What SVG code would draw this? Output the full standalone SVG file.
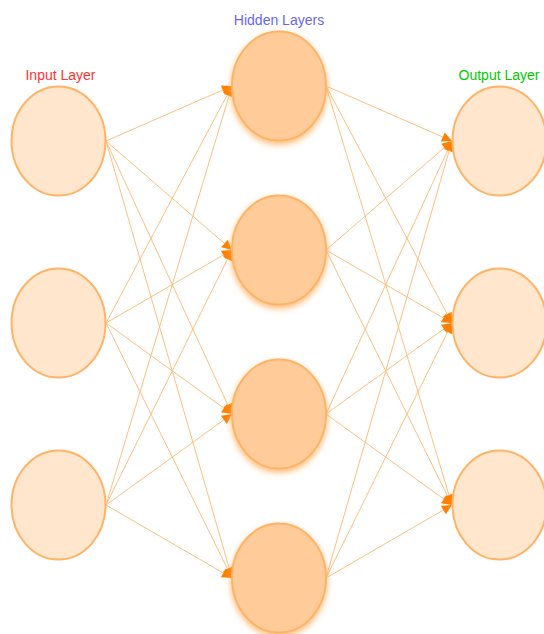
<svg xmlns="http://www.w3.org/2000/svg" width="544" height="634" viewBox="0 0 544 634">
<style>
.io{fill:#FFE6CC;stroke:#FFB366;stroke-width:2}
.hid{fill:#FFCC99;stroke:#FFB366;stroke-width:2;filter:url(#glow)}
.e{stroke:#FFBF80;stroke-width:1;fill:none;marker-end:url(#arr)}
.lbl{font-family:"Liberation Sans",Arial,sans-serif;font-size:14px;text-anchor:middle}
</style>
<defs>
<marker id="arr" markerUnits="userSpaceOnUse" markerWidth="14" markerHeight="14" viewBox="0 0 14 14" refX="12" refY="7" orient="auto">
<path d="M2,2 L12,7 L2,12 Z" fill="#FF8000"/>
</marker>
<filter id="glow" x="-30%" y="-30%" width="160%" height="170%">
<feDropShadow dx="0" dy="3" stdDeviation="3" flood-color="#FFA850" flood-opacity="0.8"/>
</filter>
</defs>
<g id="connectors">
<path class="e" d="M106,141 L232,86"/>
<path class="e" d="M106,141 L232,250"/>
<path class="e" d="M106,141 L232,414"/>
<path class="e" d="M106,141 L232,578"/>
<path class="e" d="M106,323 L232,86"/>
<path class="e" d="M106,323 L232,250"/>
<path class="e" d="M106,323 L232,414"/>
<path class="e" d="M106,323 L232,578"/>
<path class="e" d="M106,505 L232,86"/>
<path class="e" d="M106,505 L232,250"/>
<path class="e" d="M106,505 L232,414"/>
<path class="e" d="M106,505 L232,578"/>
<path class="e" d="M326,86 L452,141"/>
<path class="e" d="M326,86 L452,323"/>
<path class="e" d="M326,86 L452,505"/>
<path class="e" d="M326,250 L452,141"/>
<path class="e" d="M326,250 L452,323"/>
<path class="e" d="M326,250 L452,505"/>
<path class="e" d="M326,414 L452,141"/>
<path class="e" d="M326,414 L452,323"/>
<path class="e" d="M326,414 L452,505"/>
<path class="e" d="M326,578 L452,141"/>
<path class="e" d="M326,578 L452,323"/>
<path class="e" d="M326,578 L452,505"/>
</g>
<g id="input1"><ellipse class="io" cx="58.5" cy="141" rx="47" ry="54.5"/></g>
<g id="input2"><ellipse class="io" cx="58.5" cy="323" rx="47" ry="54.5"/></g>
<g id="input3"><ellipse class="io" cx="58.5" cy="505" rx="47" ry="54.5"/></g>
<g id="hidden1"><ellipse class="hid" cx="279" cy="86" rx="47" ry="54.5"/></g>
<g id="hidden2"><ellipse class="hid" cx="279" cy="250" rx="47" ry="54.5"/></g>
<g id="hidden3"><ellipse class="hid" cx="279" cy="414" rx="47" ry="54.5"/></g>
<g id="hidden4"><ellipse class="hid" cx="279" cy="578" rx="47" ry="54.5"/></g>
<g id="output1"><ellipse class="io" cx="499.5" cy="141" rx="47" ry="54.5"/></g>
<g id="output2"><ellipse class="io" cx="499.5" cy="323" rx="47" ry="54.5"/></g>
<g id="output3"><ellipse class="io" cx="499.5" cy="505" rx="47" ry="54.5"/></g>
<g id="labels">
<text class="lbl" x="60.5" y="80" fill="#FF3333">Input Layer</text>
<text class="lbl" x="279" y="25" fill="#6666FF">Hidden Layers</text>
<text class="lbl" x="499" y="80" fill="#00CC00">Output Layer</text>
</g>
</svg>
